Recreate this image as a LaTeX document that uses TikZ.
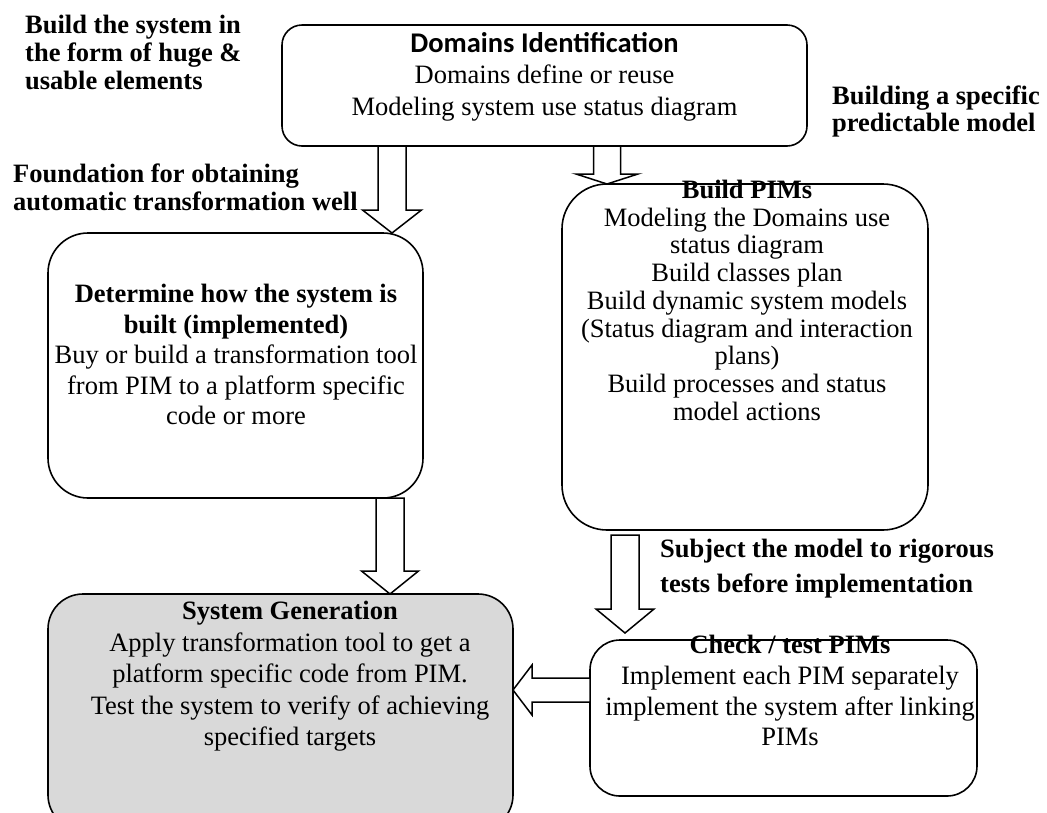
\documentclass[tikz,border=0pt]{standalone}
\usepackage{fontspec}
\setmainfont{Liberation Serif}
\newfontfamily\headfont{Carlito}
\usetikzlibrary{calc}

\definecolor{stagegray}{HTML}{D9D9D9}

\tikzset{
  stage/.style={draw, line width=1.6pt, rounded corners=#1, outer sep=0pt, inner sep=0pt},
  stage/.default=30pt,
  fatarrow/.style={draw, fill=white, line width=1.5pt, line join=miter},
  stagetext/.style={align=center, inner sep=0pt, anchor=north, font=\fontsize{26.5}{#1}\selectfont},
  stagetext/.default=30.5,
  note/.style={align=left, inner sep=0pt, anchor=north west, font=\bfseries\fontsize{26.5}{#1}\selectfont},
  note/.default=28,
}

% hollow block arrows: start, tip, shaft half width, head half width, head length
\newcommand{\downblock}[5]{%
  \draw[fatarrow] let \p1=(#1), \p2=(#2) in
    (\x1-#3pt,\y1) -- (\x1-#3pt,\y2+#5pt) -- (\x1-#4pt,\y2+#5pt) -- (\x1,\y2)
    -- (\x1+#4pt,\y2+#5pt) -- (\x1+#3pt,\y2+#5pt) -- (\x1+#3pt,\y1) -- cycle;}
\newcommand{\leftblock}[5]{%
  \draw[fatarrow] let \p1=(#1), \p2=(#2) in
    (\x1,\y1+#3pt) -- (\x2+#5pt,\y1+#3pt) -- (\x2+#5pt,\y1+#4pt) -- (\x2,\y1)
    -- (\x2+#5pt,\y1-#4pt) -- (\x2+#5pt,\y1-#3pt) -- (\x1,\y1-#3pt) -- cycle;}

\begin{document}
\begin{tikzpicture}[x=1pt,y=-1pt]
  \path[use as bounding box, fill=white] (0,0) rectangle (1047,812);

  % stages
  \node[stage=20pt, minimum width=525pt, minimum height=121pt] (dom) at (544.5,85.5) {};
  \node[stage=45pt, minimum width=366pt, minimum height=346pt] (pim) at (745,357) {};
  \node[stage=40pt, minimum width=375pt, minimum height=265pt] (det) at (235.5,365.5) {};
  \node[stage=35pt, fill=stagegray, minimum width=465pt, minimum height=236pt] (sys) at (280.5,712) {};
  \node[stage=30pt, minimum width=387pt, minimum height=156pt] (chk) at (783.5,718) {};

  % where the arrows leave the stages
  \coordinate (dom-a) at ([xshift=110pt]dom.south west);
  \coordinate (dom-b) at ([xshift=325pt]dom.south west);
  \coordinate (det-a) at ([xshift=342pt]det.south west);
  \coordinate (pim-a) at ([xshift=63pt,yshift=-5pt]pim.south west);
  \coordinate (chk-a) at ([yshift=28pt]chk.west);

  \downblock{dom-a}{dom-a |- det.north}{14}{29.5}{23}
  \downblock{dom-b}{dom-b |- pim.north}{13.5}{31}{10}
  \downblock{det-a}{det-a |- sys.north}{14}{28.5}{23}
  \downblock{pim-a}{$(pim-a |- chk.north)+(0,-7)$}{14}{29}{24}
  \leftblock{chk-a}{chk-a -| sys.east}{12}{25}{19}

  % stage texts
  \node[stagetext=31.5] (dom-t) at (544.5,32)
    {{\headfont\bfseries\fontsize{28.5}{31.5}\selectfont Domains Identification}\\
     Domains define or reuse\\ Modeling system use status diagram};
  \node[stagetext=27.7] (pim-t) at (747,180)
    {\textbf{Build PIMs}\\ Modeling the Domains use\\ status diagram\\ Build classes plan\\
     Build dynamic system models\\ (Status diagram and interaction\\ plans)\\
     Build processes and status\\ model actions};
  \node[stagetext=30.5] (det-t) at (236,284)
    {\textbf{Determine how the system is}\\ \textbf{built (implemented)}\\
     Buy or build a transformation tool\\ from PIM to a platform specific\\ code or more};
  \node[stagetext=31.5] (sys-t) at (290,601)
    {\textbf{System Generation}\\ Apply transformation tool to get a\\
     platform specific code from PIM.\\ Test the system to verify of achieving\\ specified targets};
  \node[stagetext=30.7] (chk-t) at (790,635)
    {\textbf{Check / test PIMs}\\ Implement each PIM separately\\
     implement the system after linking\\ PIMs};

  % side notes
  \node[note] (note-form) at (25,15) {Build the system in\\ the form of huge \&\\ usable elements};
  \node[note] (note-auto) at (13,164) {Foundation for obtaining\\ automatic transformation well};
  \node[note=27] (note-spec) at (832,86) {Building a specific\\ predictable model};
  \node[note=35] (note-test) at (660,539) {Subject the model to rigorous\\ tests before implementation};
\end{tikzpicture}
\end{document}
